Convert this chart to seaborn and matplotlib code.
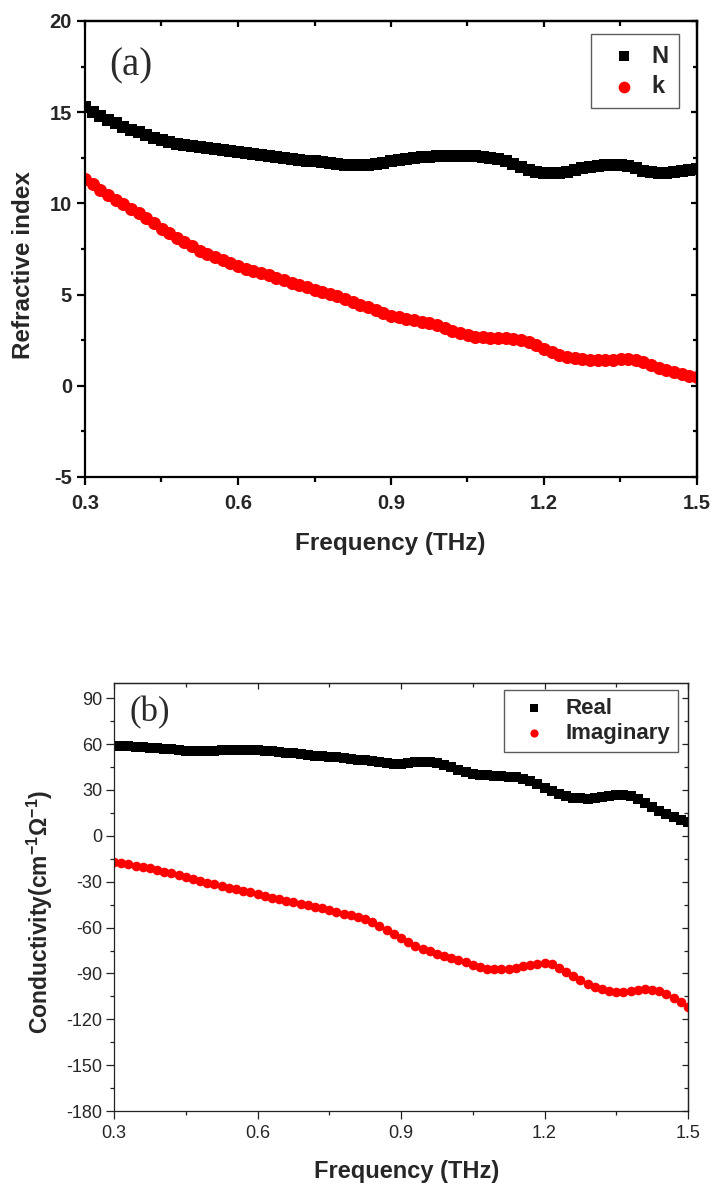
import numpy as np
import pandas as pd
import matplotlib
matplotlib.use("Agg")
import matplotlib.pyplot as plt
from matplotlib.ticker import MultipleLocator, FormatStrFormatter
import seaborn as sns

# Frequency grid (THz), 15 GHz steps
freq = np.round(np.linspace(0.30, 1.50, 81), 3)

# (a) complex refractive index
n_real = [15.30, 15.03, 14.80, 14.58, 14.40, 14.21, 14.05, 13.90, 13.75, 13.60,
          13.47, 13.37, 13.28, 13.20, 13.14, 13.08, 13.03, 12.97, 12.91, 12.86,
          12.80, 12.74, 12.69, 12.63, 12.58, 12.53, 12.49, 12.45, 12.40, 12.35,
          12.31, 12.26, 12.22, 12.17, 12.13, 12.10, 12.08, 12.11, 12.16, 12.22,
          12.30, 12.37, 12.44, 12.50, 12.54, 12.57, 12.59, 12.61, 12.62, 12.62,
          12.61, 12.59, 12.56, 12.50, 12.42, 12.30, 12.15, 11.98, 11.84, 11.73,
          11.66, 11.64, 11.67, 11.74, 11.82, 11.92, 12.00, 12.07, 12.12, 12.13,
          12.10, 12.03, 11.92, 11.80, 11.71, 11.66, 11.65, 11.70, 11.77, 11.84,
          11.90]
k_imag = [11.35, 11.05, 10.75, 10.45, 10.18, 9.95, 9.72, 9.45, 9.18, 8.90,
          8.62, 8.36, 8.12, 7.88, 7.65, 7.40, 7.22, 7.05, 6.90, 6.72,
          6.55, 6.42, 6.30, 6.18, 6.05, 5.92, 5.79, 5.66, 5.52, 5.39,
          5.27, 5.14, 5.02, 4.90, 4.75, 4.60, 4.45, 4.30, 4.15, 4.00,
          3.85, 3.75, 3.67, 3.60, 3.52, 3.43, 3.32, 3.17, 3.02, 2.89,
          2.78, 2.70, 2.65, 2.63, 2.61, 2.60, 2.58, 2.51, 2.39, 2.22,
          2.02, 1.85, 1.70, 1.59, 1.50, 1.45, 1.43, 1.42, 1.42, 1.43,
          1.45, 1.46, 1.42, 1.32, 1.16, 1.00, 0.85, 0.74, 0.65, 0.56,
          0.48]

# (b) complex conductivity (cm^-1 Ohm^-1)
sigma_real = [59.0, 58.8, 58.6, 58.3, 58.0, 57.6, 57.2, 56.9, 56.5, 56.1,
              55.8, 55.6, 55.5, 55.5, 55.7, 55.9, 56.0, 56.2, 56.3, 56.2,
              56.0, 55.7, 55.3, 54.8, 54.4, 53.9, 53.4, 52.9, 52.5, 52.1,
              51.7, 51.3, 50.8, 50.4, 49.9, 49.4, 48.8, 48.1, 47.5, 47.2,
              47.3, 47.6, 48.0, 48.3, 48.3, 47.8, 46.6, 45.0, 43.2, 41.8,
              40.7, 40.0, 39.5, 39.1, 38.9, 38.7, 38.4, 37.5, 35.9, 33.8,
              31.5, 29.2, 27.2, 25.8, 24.9, 24.5, 24.4, 24.8, 25.6, 26.3,
              26.6, 26.6, 25.9, 24.0, 21.5, 18.9, 16.3, 14.1, 12.3, 10.7,
              9.2]
sigma_imag = [-17.0, -17.7, -18.5, -19.4, -20.2, -21.2, -22.3, -23.4, -24.5, -25.6,
              -26.9, -28.2, -29.5, -30.6, -31.8, -33.0, -34.0, -35.0, -36.0, -37.0,
              -38.0, -39.3, -40.4, -41.4, -42.5, -43.5, -44.4, -45.3, -46.3, -47.4,
              -48.5, -49.7, -50.8, -51.9, -53.1, -54.6, -56.5, -58.7, -61.4, -64.2,
              -67.0, -69.7, -72.0, -73.9, -75.5, -77.0, -78.3, -79.6, -81.0, -82.6,
              -84.3, -85.7, -86.8, -87.3, -87.4, -87.1, -86.2, -85.4, -84.5, -83.7,
              -83.2, -84.0, -86.3, -88.9, -91.8, -94.5, -96.8, -98.8, -100.4, -101.5,
              -102.1, -102.2, -101.5, -100.6, -100.2, -100.6, -101.5, -103.5, -106.2, -108.9,
              -111.7]

index_df = pd.DataFrame({"freq": freq, "N": n_real, "k": k_imag})
cond_df = pd.DataFrame({"freq": freq, "Real": sigma_real, "Imaginary": sigma_imag})

sns.set_style("ticks")
plt.rcParams["font.family"] = ["Liberation Sans", "DejaVu Sans"]
plt.rcParams["axes.unicode_minus"] = False
plt.rcParams["mathtext.fontset"] = "custom"
plt.rcParams["mathtext.rm"] = "Liberation Sans"
plt.rcParams["mathtext.bf"] = "Liberation Sans:bold"
plt.rcParams["mathtext.default"] = "bf"

RED = "#ff0000"
PX = 0.72  # points per pixel at 100 dpi

fig = plt.figure(figsize=(7.16, 11.87), dpi=100)
ax1 = fig.add_axes([85 / 716, 1 - 477 / 1187, 612 / 716, 456 / 1187])
ax2 = fig.add_axes([114 / 716, 1 - 1111 / 1187, 574 / 716, 428 / 1187])


def frame(ax, lw, color, xmaj, ymaj, yfmt, tick_size, tick_weight,
          major_len, minor_len, xpad, ypad):
    for sp in ax.spines.values():
        sp.set_linewidth(lw)
        sp.set_color(color)
    ax.xaxis.set_major_locator(MultipleLocator(xmaj))
    ax.xaxis.set_minor_locator(MultipleLocator(xmaj / 2))
    ax.yaxis.set_major_locator(MultipleLocator(ymaj))
    ax.yaxis.set_minor_locator(MultipleLocator(ymaj / 2))
    ax.xaxis.set_major_formatter(FormatStrFormatter("%.1f"))
    ax.yaxis.set_major_formatter(FormatStrFormatter(yfmt))
    ax.tick_params(which="both", direction="out", top=False, right=False,
                   width=lw, color=color, labelsize=tick_size)
    ax.tick_params(which="major", length=major_len)
    ax.tick_params(which="minor", length=minor_len)
    ax.tick_params(axis="x", pad=xpad)
    ax.tick_params(axis="y", pad=ypad)
    for lab in ax.get_xticklabels() + ax.get_yticklabels():
        lab.set_fontweight(tick_weight)

    # mirrored ticks pointing into the plot on the top and right sides
    top = ax.secondary_xaxis("top")
    top.xaxis.set_major_locator(MultipleLocator(xmaj))
    top.xaxis.set_minor_locator(MultipleLocator(xmaj / 2))
    top.tick_params(which="both", direction="in", labeltop=False,
                    width=lw, color=color)
    top.tick_params(which="major", length=major_len * 0.8)
    top.tick_params(which="minor", length=minor_len)
    top.spines["top"].set_linewidth(lw)
    top.spines["top"].set_color(color)
    right = ax.secondary_yaxis("right")
    right.yaxis.set_major_locator(MultipleLocator(ymaj))
    right.yaxis.set_minor_locator(MultipleLocator(ymaj / 2))
    right.tick_params(which="both", direction="in", labelright=False,
                      width=lw, color=color)
    right.tick_params(which="major", length=major_len * 0.8)
    right.tick_params(which="minor", length=minor_len)
    right.spines["right"].set_linewidth(lw)
    right.spines["right"].set_color(color)


# ---------------- (a) refractive index ----------------
sns.scatterplot(data=index_df, x="freq", y="N", ax=ax1, marker="s", s=68,
                color="black", linewidth=0, label="N")
sns.scatterplot(data=index_df, x="freq", y="k", ax=ax1, marker="o", s=88,
                color=RED, linewidth=0, label="k")
ax1.set_xlim(0.3, 1.5)
ax1.set_ylim(-5, 20)
frame(ax1, 1.6, "black", 0.3, 5, "%d", 14.5, "bold", 8 * PX, 4.5 * PX, 9 * PX, 5 * PX)
ax1.set_xlabel("Frequency (THz)", fontsize=17.5, fontweight="bold")
ax1.set_ylabel("Refractive index", fontsize=17.5, fontweight="bold")
ax1.xaxis.label.set_va("center")
ax1.yaxis.label.set_va("center")
ax1.xaxis.set_label_coords(0.498, -0.145)
ax1.yaxis.set_label_coords(-0.101, 0.465)
ax1.text(0.075, 0.901, "(a)", transform=ax1.transAxes, ha="center", va="center",
         fontsize=28, family="Liberation Serif", color="#2a2a2a")
leg1 = ax1.legend(loc="upper right", bbox_to_anchor=(0.9706, 0.9715),
                  borderaxespad=0, frameon=True, fancybox=False,
                  prop={"size": 17, "weight": "bold"}, handlelength=1.9,
                  handletextpad=0.2, borderpad=0.45, labelspacing=0.3,
                  markerscale=0.9)
leg1.get_frame().set_edgecolor("#333333")
leg1.get_frame().set_linewidth(1.0)

# ---------------- (b) conductivity ----------------
sns.scatterplot(data=cond_df, x="freq", y="Real", ax=ax2, marker="s", s=44,
                color="black", linewidth=0, label="Real")
sns.scatterplot(data=cond_df, x="freq", y="Imaginary", ax=ax2, marker="o", s=48,
                color=RED, linewidth=0, label="Imaginary")
ax2.set_xlim(0.3, 1.5)
ax2.set_ylim(-180, 100)
frame(ax2, 0.9, "#222222", 0.3, 30, "%d", 13, "normal", 8 * PX, 4 * PX, 6 * PX, 4 * PX)
ax2.set_xlabel("Frequency (THz)", fontsize=17, fontweight="bold")
ax2.set_ylabel(r"Conductivity(cm$^{\mathbf{-1}}$Ω$^{\mathbf{-1}}$)",
               fontsize=16.5, fontweight="bold")
ax2.xaxis.label.set_va("center")
ax2.yaxis.label.set_va("center")
ax2.xaxis.set_label_coords(0.51, -0.1425)
ax2.yaxis.set_label_coords(-0.129, 0.465)
ax2.text(0.063, 0.93, "(b)", transform=ax2.transAxes, ha="center", va="center",
         fontsize=25, family="Liberation Serif", color="#2a2a2a")
leg2 = ax2.legend(loc="upper right", bbox_to_anchor=(0.9826, 0.9836),
                  borderaxespad=0, frameon=True, fancybox=False,
                  prop={"size": 16, "weight": "bold"}, handlelength=2.0,
                  handletextpad=0.4, borderpad=0.35, labelspacing=0.2,
                  markerscale=0.85)
leg2.get_frame().set_edgecolor("#333333")
leg2.get_frame().set_linewidth(1.0)

fig.savefig("out.png", dpi=100)
